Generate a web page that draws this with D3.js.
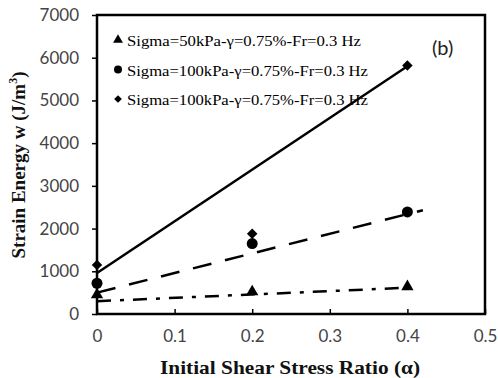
<!DOCTYPE html>
<html>
<head>
<meta charset="utf-8">
<script src="https://cdn.jsdelivr.net/npm/d3@7"></script>
<style>
  html, body { margin: 0; padding: 0; background: #fff; }
  svg { display: block; }
</style>
</head>
<body>
<svg id="chart" width="498" height="378"></svg>
<script>
// Initial shear stress ratio (α) at which each test was run
const alpha = [0, 0.2, 0.4];
// Strain energy w (J/m³) for each loading condition
const sigma50 = [450, 520, 640];
const sigma100a = [720, 1650, 2390];
const sigma100b = [1150, 1880, 5820];
// Linear trend lines: [α, w] end points
const trend50 = [[0, 300], [0.4, 615]];
const trend100a = [[0, 500], [0.42, 2430]];
const trend100b = [[0, 960], [0.4, 5800]];
// Axis ticks
const xTicks = [0, 0.1, 0.2, 0.3, 0.4, 0.5];
const yTicks = [0, 1000, 2000, 3000, 4000, 5000, 6000, 7000];
const legendLabels = [
  "Sigma=50kPa-γ=0.75%-Fr=0.3 Hz",
  "Sigma=100kPa-γ=0.75%-Fr=0.3 Hz",
  "Sigma=100kPa-γ=0.75%-Fr=0.3 Hz"
];

const svg = d3.select("#chart");
const m = { left: 97, right: 13, top: 15, bottom: 64 };
const W = 498, H = 378;
const x = d3.scaleLinear().domain([0, 0.5]).range([m.left, W - m.right]);
const y = d3.scaleLinear().domain([0, 7000]).range([H - m.bottom, m.top]);

const tickFont = "Lato, 'Open Sans', sans-serif";
const serif = "'Liberation Serif', 'Times New Roman', serif";

// y axis: ticks outside, labels to the left
const yAxis = svg.append("g")
  .attr("transform", `translate(${m.left},0)`)
  .call(d3.axisLeft(y).tickValues(yTicks).tickSize(5).tickPadding(13).tickFormat(d3.format("d")));
yAxis.select(".domain").remove();
yAxis.selectAll("line").attr("stroke", "#000").attr("stroke-width", 1.5);
yAxis.selectAll("text").attr("font-family", tickFont).attr("font-size", 17).attr("fill", "#444");

// x axis: ticks pointing into the plot
const xAxis = svg.append("g")
  .attr("transform", `translate(0,${H - m.bottom})`)
  .call(d3.axisBottom(x).tickValues(xTicks).tickSize(-5).tickPadding(16).tickFormat(d => d === 0 ? "0" : d3.format(".1f")(d)));
xAxis.select(".domain").remove();
xAxis.selectAll("line").attr("stroke", "#000").attr("stroke-width", 1.5);
xAxis.selectAll("text").attr("font-family", tickFont).attr("font-size", 17).attr("fill", "#444");

// plot frame
svg.append("rect")
  .attr("x", x(0)).attr("y", y(7000))
  .attr("width", x(0.5) - x(0)).attr("height", y(0) - y(7000))
  .attr("fill", "none").attr("stroke", "#000").attr("stroke-width", 2.5);

// trend lines
const line = d3.line().x(d => x(d[0])).y(d => y(d[1]));
svg.append("path").datum(trend50).attr("d", line)
  .attr("fill", "none").attr("stroke", "#000").attr("stroke-width", 2.5)
  .attr("stroke-dasharray", "14 9 4 9");
svg.append("path").datum(trend100a).attr("d", line)
  .attr("fill", "none").attr("stroke", "#000").attr("stroke-width", 2.5)
  .attr("stroke-dasharray", "19 14");
svg.append("path").datum(trend100b).attr("d", line)
  .attr("fill", "none").attr("stroke", "#000").attr("stroke-width", 2.5);

// markers (diamond = square turned 45°)
const markers = [
  { vals: sigma50, s: d3.symbol().type(d3.symbolTriangle).size(65), rot: 0 },
  { vals: sigma100a, s: d3.symbol().type(d3.symbolCircle).size(95), rot: 0 },
  { vals: sigma100b, s: d3.symbol().type(d3.symbolSquare).size(55), rot: 45 }
];
markers.forEach(sr => {
  svg.append("g").selectAll("path").data(alpha.map((a, i) => [a, sr.vals[i]]))
    .join("path")
    .attr("transform", d => `translate(${x(d[0])},${y(d[1])}) rotate(${sr.rot})`)
    .attr("d", sr.s).attr("fill", "#000");
});

// legend
const legendSyms = [
  { s: d3.symbol().type(d3.symbolTriangle).size(42), rot: 0 },
  { s: d3.symbol().type(d3.symbolCircle).size(50), rot: 0 },
  { s: d3.symbol().type(d3.symbolSquare).size(30), rot: 45 }
];
legendLabels.forEach((t, i) => {
  const ly = 40 + i * 29.5;
  svg.append("path").attr("transform", `translate(118,${ly}) rotate(${legendSyms[i].rot})`)
    .attr("d", legendSyms[i].s).attr("fill", "#000");
  svg.append("text").attr("x", 127).attr("y", ly + 6)
    .attr("font-family", serif).attr("font-size", 15.5).attr("fill", "#000")
    .attr("textLength", i === 0 ? 234 : 241).attr("lengthAdjust", "spacingAndGlyphs")
    .text(t);
});

// panel tag
svg.append("text").attr("x", 432).attr("y", 55)
  .attr("font-family", tickFont).attr("font-size", 20).attr("fill", "#222").text("(b)");

// axis titles
svg.append("text").attr("x", 290).attr("y", 374).attr("text-anchor", "middle")
  .attr("font-family", serif).attr("font-weight", "bold").attr("font-size", 19).attr("fill", "#111")
  .attr("textLength", 260).attr("lengthAdjust", "spacingAndGlyphs")
  .text("Initial Shear Stress Ratio (α)");
const yt = svg.append("text").attr("transform", "translate(25,165) rotate(-90)").attr("text-anchor", "middle")
  .attr("font-family", serif).attr("font-weight", "bold").attr("font-size", 19).attr("fill", "#111");
yt.append("tspan").text("Strain Energy w (J/m");
yt.append("tspan").attr("font-size", 12).attr("dy", -8).text("3");
yt.append("tspan").attr("dy", 8).text(")");
</script>
</body>
</html>
